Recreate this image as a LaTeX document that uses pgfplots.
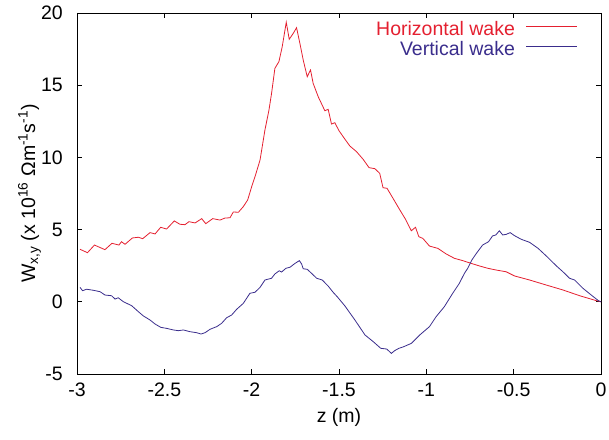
\documentclass[border=0pt]{standalone}
\usepackage{pgfplots}
\pgfplotsset{compat=1.18}
\usepackage{fontspec}
\setmainfont{Liberation Sans}
\definecolor{hwake}{RGB}{228,32,48}
\definecolor{vwake}{RGB}{58,45,140}
\begin{document}
\fontsize{19.5}{23}\selectfont
\begin{tikzpicture}
\useasboundingbox (-77pt,-65pt) rectangle (532pt,374pt);
\begin{axis}[
  scale only axis,
  width=524pt, height=361pt,
  xmin=-3, xmax=0, ymin=-5, ymax=20,
  xtick={-3,-2.5,...,0}, ytick={-5,0,5,10,15,20},
  tick align=inside,
  major tick length=5pt,
  axis line style={line width=0.9pt},
  every tick/.style={black, line width=0.9pt},
  /pgf/number format/assume math mode=true,
  xticklabel style={anchor=base, inner sep=0pt, yshift=-22pt},
  yticklabel style={anchor=east, inner sep=0pt, xshift=-14pt},
  xlabel={z (m)},
  ylabel={W\textsubscript{x,y} (x 10\textsuperscript{16} Ωm\textsuperscript{-1}s\textsuperscript{-1})},
  xlabel style={at={(axis description cs:0.5,-0.135)}, anchor=base, inner sep=0pt},
  ylabel style={at={(axis description cs:-0.08,0.5)}, anchor=base, inner sep=0pt},
  legend plot pos=right,
  legend cell align=right,
  legend style={draw=none, fill=none, inner sep=0pt,
    at={(axis description cs:0.956,0.978)}, anchor=north east,
    nodes={inner sep=0pt, text height=14pt, text depth=6pt},
    column sep=11pt},
  legend image code/.code={\draw[#1] (0pt,5pt) -- (51pt,5pt);},
]
\addplot[hwake, line width=0.8pt] coordinates {
(-2.983,3.64) (-2.94,3.40) (-2.90,3.93) (-2.84,3.61) (-2.80,4.05) (-2.76,3.93)
(-2.745,4.16) (-2.725,3.98) (-2.683,4.42) (-2.649,4.47) (-2.624,4.37) (-2.582,4.79)
(-2.553,4.70) (-2.521,5.16) (-2.487,5.04) (-2.443,5.60) (-2.411,5.37) (-2.382,5.34)
(-2.359,5.55) (-2.324,5.46) (-2.286,5.76) (-2.263,5.41) (-2.223,5.76) (-2.181,5.66)
(-2.153,5.80) (-2.124,5.82) (-2.105,6.22) (-2.076,6.20) (-2.048,6.59) (-2.023,7.05)
(-2.0,7.97) (-1.981,8.66) (-1.952,9.82) (-1.924,11.9) (-1.901,13.28) (-1.886,14.44)
(-1.867,16.17) (-1.844,16.63) (-1.825,17.67) (-1.802,19.36) (-1.785,18.18) (-1.762,18.59)
(-1.743,18.98) (-1.724,17.9) (-1.705,16.75) (-1.682,15.59) (-1.663,16.05) (-1.648,15.13)
(-1.619,14.2) (-1.581,13.23) (-1.562,13.33) (-1.543,12.31) (-1.524,12.40) (-1.5,11.85)
(-1.476,11.43) (-1.438,10.79) (-1.40,10.40) (-1.362,9.87) (-1.328,9.29) (-1.295,9.22)
(-1.267,8.90) (-1.248,7.90) (-1.225,7.86) (-1.191,7.17) (-1.157,6.47) (-1.119,5.71)
(-1.086,4.92) (-1.062,5.16) (-1.043,4.51) (-1.02,4.39) (-0.982,3.86) (-0.934,3.70)
(-0.886,3.31) (-0.839,3.01) (-0.791,2.85) (-0.743,2.66) (-0.695,2.48) (-0.648,2.32)
(-0.60,2.20) (-0.543,2.08) (-0.495,1.79) (-0.409,1.51) (-0.313,1.16) (-0.218,0.82)
(-0.122,0.42) (-0.027,0.08) (0,0)
};
\addlegendentry{\textcolor{hwake}{Horizontal wake}}
\addplot[vwake, line width=0.8pt] coordinates {
(-2.983,1.0) (-2.968,0.77) (-2.945,0.87) (-2.907,0.80) (-2.868,0.70) (-2.84,0.47)
(-2.802,0.42) (-2.782,0.19) (-2.764,0.28) (-2.735,0.01) (-2.687,-0.27) (-2.649,-0.68)
(-2.62,-0.98) (-2.582,-1.26) (-2.553,-1.54) (-2.52,-1.77) (-2.487,-1.84) (-2.448,-1.95)
(-2.42,-2.0) (-2.391,-1.95) (-2.353,-2.07) (-2.315,-2.14) (-2.29,-2.23) (-2.267,-2.14)
(-2.238,-1.90) (-2.2,-1.72) (-2.172,-1.49) (-2.143,-1.10) (-2.115,-0.92) (-2.086,-0.52)
(-2.048,-0.11) (-2.01,0.59) (-1.981,0.66) (-1.952,1.0) (-1.924,1.51) (-1.886,1.63)
(-1.867,1.93) (-1.842,2.15) (-1.829,2.06) (-1.804,2.32) (-1.781,2.39) (-1.752,2.66)
(-1.727,2.85) (-1.714,2.62) (-1.705,2.29) (-1.682,2.25) (-1.657,1.97) (-1.628,1.63)
(-1.596,1.51) (-1.562,1.09) (-1.533,0.65) (-1.51,0.35) (-1.466,-0.29) (-1.409,-1.26)
(-1.351,-2.30) (-1.304,-2.76) (-1.261,-3.22) (-1.227,-3.27) (-1.2,-3.57) (-1.181,-3.38)
(-1.157,-3.22) (-1.13,-3.11) (-1.086,-2.88) (-1.038,-2.30) (-0.982,-1.72) (-0.944,-1.03)
(-0.897,-0.34) (-0.849,0.59) (-0.811,1.28) (-0.782,1.97) (-0.763,2.32) (-0.739,2.90)
(-0.716,3.31) (-0.678,3.93) (-0.644,4.16) (-0.621,4.56) (-0.602,4.63) (-0.582,4.92)
(-0.563,4.63) (-0.543,4.67) (-0.52,4.79) (-0.495,4.58) (-0.457,4.33) (-0.409,4.12)
(-0.36,3.70) (-0.313,3.17) (-0.255,2.48) (-0.218,2.08) (-0.18,1.63) (-0.151,1.51)
(-0.103,0.93) (-0.056,0.47) (-0.015,0.08) (0,0)
};
\addlegendentry{\textcolor{vwake}{Vertical wake}}
\end{axis}
\end{tikzpicture}
\end{document}
